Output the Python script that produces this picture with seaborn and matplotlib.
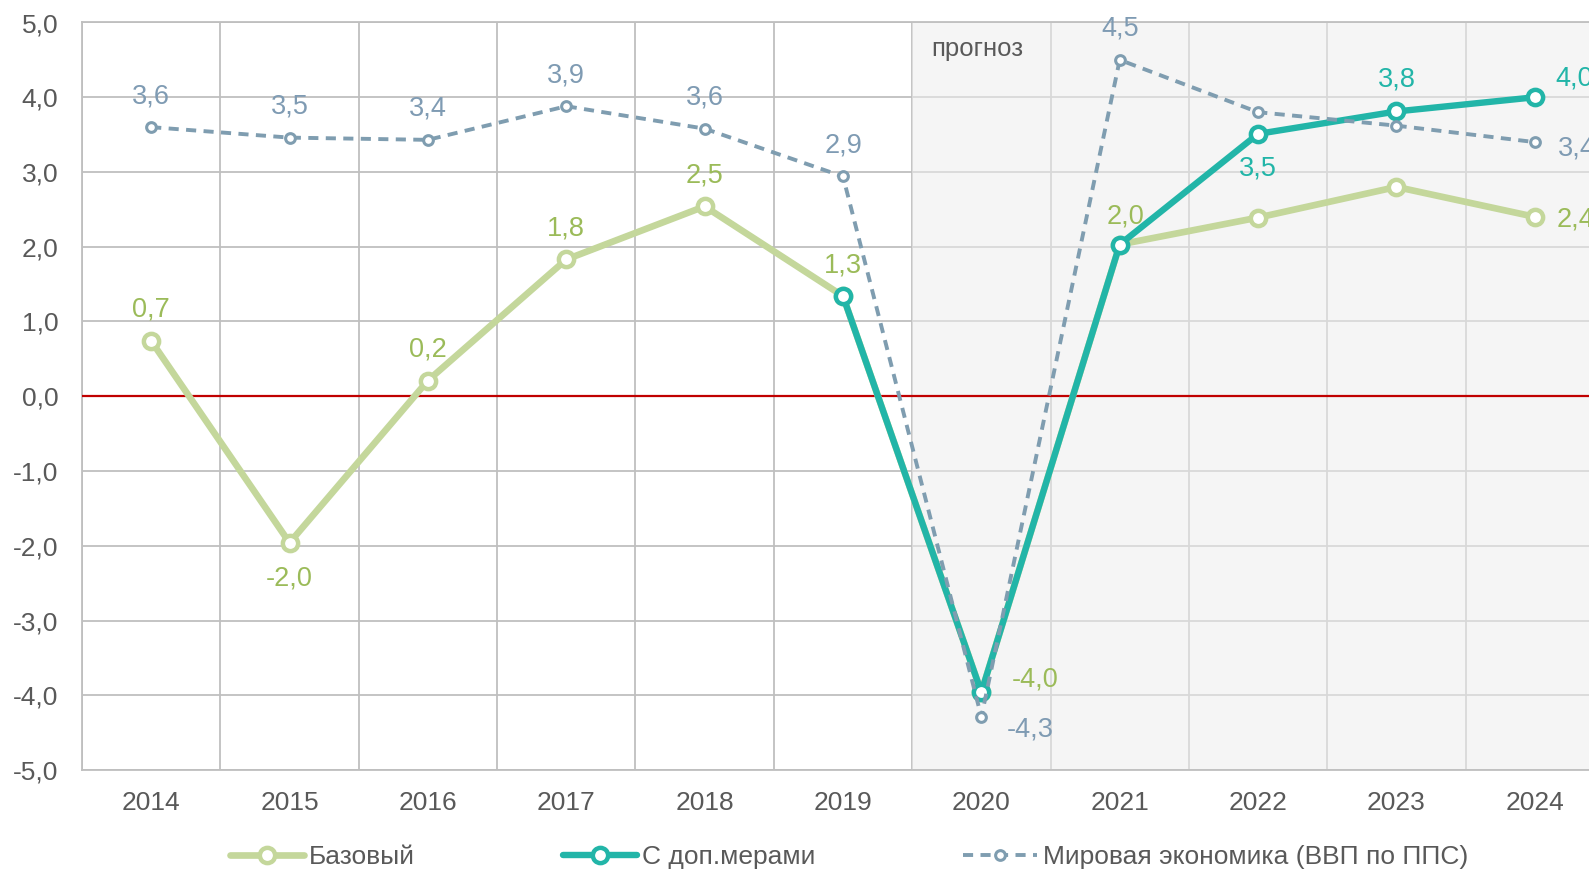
import matplotlib
matplotlib.use("Agg")
import matplotlib.pyplot as plt
import seaborn as sns
import numpy as np
import pandas as pd
from matplotlib.ticker import FuncFormatter, MultipleLocator, FixedLocator

years = [2014, 2015, 2016, 2017, 2018, 2019, 2020, 2021, 2022, 2023, 2024]
base = [0.74, -1.96, 0.21, 1.83, 2.54, 1.34, -3.96, 2.03, 2.39, 2.80, 2.40]
extra = [np.nan, np.nan, np.nan, np.nan, np.nan, 1.34, -3.96, 2.03, 3.51, 3.81, 4.00]
world = [3.60, 3.46, 3.43, 3.88, 3.58, 2.94, -4.29, 4.50, 3.80, 3.62, 3.40]
series_names = ["Базовый", "С доп.мерами", "Мировая экономика (ВВП по ППС)"]
forecast_label = "прогноз"

c_base, c_base_txt = "#c4d79b", "#9bbb59"
c_extra = "#22b5a8"
c_world, c_world_txt = "#7f9db0", "#7f9bb3"
c_tick = "#595959"

sns.set_theme(style="white")
plt.rcParams["font.family"] = ["Liberation Sans", "DejaVu Sans"]

fig = plt.figure(figsize=(15.89, 8.71), dpi=100)
ax = fig.add_axes([82 / 1589, 101 / 871, 1522 / 1589, 747.5 / 871])

x = np.arange(len(years))
df = pd.DataFrame({"x": x, "base": base, "extra": extra, "world": world})

sns.lineplot(data=df, x="x", y="base", ax=ax, color=c_base, lw=4.8,
             marker="o", ms=11, mfc="white", mec=c_base, mew=3.2,
             label=series_names[0], zorder=4)
sns.lineplot(data=df.dropna(), x="x", y="extra", ax=ax, color=c_extra, lw=4.6,
             marker="o", ms=11, mfc="white", mec=c_extra, mew=3.2,
             label=series_names[1], zorder=5)
sns.lineplot(data=df, x="x", y="world", ax=ax, color=c_world, lw=2.8,
             ls=(0, (2.6, 1.9)), marker="o", ms=7, mfc="white", mec=c_world,
             mew=2.2, label=series_names[2], zorder=6)

ax.set_xlim(-0.5, len(years) - 0.5)
ax.set_ylim(-5, 5)

# forecast shading (semi-transparent so the grid looks lighter inside)
ax.axvspan(5.5, len(years) - 0.5, color=(238 / 255,) * 3, alpha=0.55, lw=0, zorder=1.5)
ax.text(5.64, 4.65, forecast_label, fontsize=18.5, color=c_tick, va="center", ha="left", zorder=3)

ax.axhline(0, color="#c00000", lw=1.6, zorder=3)

ax.yaxis.set_major_locator(MultipleLocator(1))
ax.yaxis.set_major_formatter(FuncFormatter(lambda v, p: f"{v:.1f}".replace(".", ",")))
ax.xaxis.set_major_locator(FixedLocator(x))
ax.set_xticklabels([str(y) for y in years])
ax.xaxis.set_minor_locator(FixedLocator(np.arange(-0.5, len(years), 1)))
ax.grid(False)
ax.grid(True, axis="y", which="major", color="#bfbfbf", lw=1.3, zorder=1)
ax.grid(True, axis="x", which="minor", color="#bfbfbf", lw=1.3, zorder=1)
ax.tick_params(axis="both", which="both", length=0, labelsize=19, colors=c_tick)
ax.tick_params(axis="x", pad=15)
ax.tick_params(axis="y", pad=17)
ax.set_xlabel("")
ax.set_ylabel("")
for s in ax.spines.values():
    s.set_color("#bfbfbf")
    s.set_linewidth(1.3)

def fmt(v):
    return f"{v:.1f}".replace(".", ",")

def label(vals, idx, dx, dy, color, ha="center"):
    ax.annotate(fmt(vals[idx]), (x[idx], vals[idx]), xytext=(dx * 0.72, dy * 0.72),
                textcoords="offset points", ha=ha, va="center", fontsize=19.5,
                color=color, zorder=7, annotation_clip=False)

# label offsets in pixels (dx, dy)
for i in range(6):
    dy = -36 if i == 1 else 31
    label(base, i, 0, dy, c_base_txt)
label(base, 6, 54, 13, c_base_txt)
label(base, 7, 6, 28, c_base_txt)
label(base, 10, 22, -3, c_base_txt, ha="left")

label(extra, 8, 0, -35, c_extra)
label(extra, 9, 0, 32, c_extra)
label(extra, 10, 21, 19, c_extra, ha="left")

for i in [0, 1, 2, 3, 4, 5, 7]:
    label(world, i, 0, 31, c_world_txt)
label(world, 6, 49, -13, c_world_txt)
label(world, 10, 23, -6, c_world_txt, ha="left")

handles, labels = ax.get_legend_handles_labels()
ax.get_legend().remove()
fig.legend(handles, labels, ncol=3, loc="center left",
           bbox_to_anchor=(217 / 1589, 1 - 857 / 871), frameon=False,
           fontsize=19, handlelength=2.8, handletextpad=0.2,
           columnspacing=5.6, borderpad=0, labelcolor=c_tick)

fig.savefig("out.png", dpi=100)
